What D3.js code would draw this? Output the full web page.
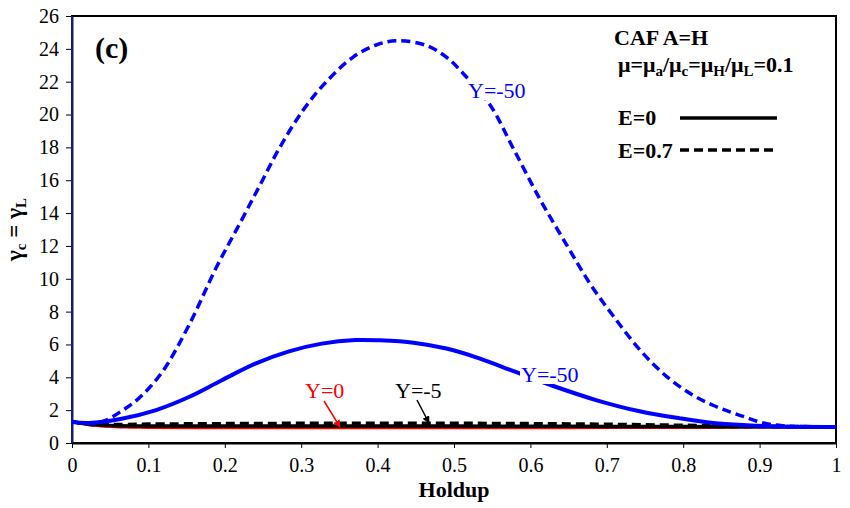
<!DOCTYPE html>
<html>
<head>
<meta charset="utf-8">
<script src="https://cdn.jsdelivr.net/npm/d3@7"></script>
<style>
  body { margin: 0; background: #fff; }
</style>
</head>
<body>
<div id="chart"></div>
<script>
// data
var xTicks = [0, 0.1, 0.2, 0.3, 0.4, 0.5, 0.6, 0.7, 0.8, 0.9, 1];
var yTicks = [0, 2, 4, 6, 8, 10, 12, 14, 16, 18, 20, 22, 24, 26];

// Y=-50, E=0.7 (dashed blue)
var holdupBlueDash = [0, 0.026, 0.044, 0.065, 0.087, 0.118, 0.153, 0.189, 0.22, 0.246, 0.272, 0.303, 0.333, 0.368, 0.399, 0.427, 0.464, 0.49, 0.512, 0.547, 0.578, 0.613, 0.647, 0.678, 0.709, 0.743, 0.778, 0.813, 0.839, 0.862, 0.883, 0.905, 0.93, 0.96, 1];
var gammaBlueDash = [1.3, 1.18, 1.38, 1.95, 2.7, 4.32, 7.17, 10.7, 13.4, 15.7, 18.0, 20.3, 22.0, 23.5, 24.25, 24.5, 24.2, 23.5, 22.5, 20.6, 17.9, 14.8, 12.1, 9.7, 7.7, 5.69, 4.06, 2.9, 2.3, 1.88, 1.55, 1.22, 1.05, 1.0, 0.98];

// Y=-50, E=0 (solid blue)
var holdupBlueSolid = [0, 0.022, 0.065, 0.109, 0.153, 0.196, 0.24, 0.284, 0.327, 0.371, 0.403, 0.447, 0.49, 0.534, 0.578, 0.63, 0.687, 0.743, 0.796, 0.839, 0.883, 0.926, 1];
var gammaBlueSolid = [1.28, 1.22, 1.48, 1.99, 2.8, 3.82, 4.83, 5.58, 6.05, 6.27, 6.25, 6.11, 5.75, 5.14, 4.37, 3.47, 2.6, 1.93, 1.5, 1.22, 1.08, 1.0, 0.98];

// Y=0 and Y=-5
var holdupFlat = [0, 0.02, 0.05, 0.1, 0.2, 0.3, 0.4, 0.5, 0.6, 0.7, 0.8, 0.9, 1];
var gammaRedSolid = [1.3, 1.12, 1.0, 0.95, 0.93, 0.93, 0.93, 0.93, 0.93, 0.94, 0.95, 0.97, 0.98];
var gammaRedDash = [1.3, 1.13, 1.02, 0.97, 0.95, 0.95, 0.95, 0.95, 0.95, 0.95, 0.96, 0.97, 0.98];
var gammaBlackSolid = [1.3, 1.15, 1.06, 1.04, 1.04, 1.04, 1.04, 1.03, 1.02, 1.01, 1.0, 0.99, 0.98];
var gammaBlackDash = [1.3, 1.16, 1.12, 1.15, 1.18, 1.2, 1.21, 1.2, 1.18, 1.14, 1.08, 1.02, 0.98];

var FONT = "'Liberation Serif', 'Times New Roman', serif";

var margin = {top: 16, right: 14, bottom: 65, left: 72},
    width = 850 - margin.left - margin.right,
    height = 508 - margin.top - margin.bottom;

var svg = d3.select("#chart")
  .append("svg")
    .attr("width", 850)
    .attr("height", 508)
    .style("font-family", FONT)
  .append("g")
    .attr("transform", "translate(" + margin.left + "," + margin.top + ")");

var x = d3.scaleLinear().domain([0, 1]).range([0, width]);
var y = d3.scaleLinear().domain([0, 26]).range([height, 0]);

// X axis
var xAxis = svg.append("g")
  .attr("transform", "translate(0," + height + ")")
  .call(d3.axisBottom(x).tickValues(xTicks).tickSize(5).tickSizeOuter(0).tickFormat(d3.format("")));
xAxis.attr("font-family", null).attr("font-size", null);
xAxis.selectAll("text").attr("dy", "1.05em").style("font-size", "20px").attr("fill", "#000");
xAxis.select(".domain").attr("stroke-width", 2);

// Y axis
var yAxis = svg.append("g")
  .call(d3.axisLeft(y).tickValues(yTicks).tickSize(6).tickSizeOuter(0));
yAxis.attr("font-family", null).attr("font-size", null);
yAxis.selectAll("text").attr("x", -13).style("font-size", "20px").attr("fill", "#000");
yAxis.select(".domain").attr("stroke", "#1a1a7a").attr("stroke-width", 2);

// frame
svg.append("rect")
  .attr("width", width).attr("height", height)
  .attr("fill", "none").attr("stroke", "#000").attr("stroke-width", 2);
svg.append("line")
  .attr("x1", 0).attr("x2", 0).attr("y1", 0).attr("y2", height)
  .attr("stroke", "#1a1a7a").attr("stroke-width", 2);

var line = d3.line()
  .x(function(d) { return x(d[0]); })
  .y(function(d) { return y(d[1]); })
  .curve(d3.curveCatmullRom.alpha(0.5));

function series(xs, ys, color, dash, w) {
  svg.append("path")
    .datum(d3.zip(xs, ys))
    .attr("fill", "none")
    .attr("stroke", color)
    .attr("stroke-width", w)
    .attr("stroke-dasharray", dash)
    .attr("d", line);
}

series(holdupFlat, gammaRedDash, "#ff0000", "9,5", 3);
series(holdupFlat, gammaRedSolid, "#ff0000", null, 3);
series(holdupFlat, gammaBlackSolid, "#000", null, 3.5);
series(holdupFlat, gammaBlackDash, "#000", "9,5", 3.5);
series(holdupBlueSolid, gammaBlueSolid, "#0000ff", null, 4);
series(holdupBlueDash, gammaBlueDash, "#0000ff", "9,5", 3.5);

// curve labels
function label(tx, ty, txt, color) {
  var t = svg.append("text")
    .attr("x", tx).attr("y", ty)
    .attr("fill", color)
    .style("font-size", "22px")
    .text(txt);
  var b = t.node().getBBox();
  svg.insert("rect", function() { return t.node(); })
    .attr("x", b.x - 1).attr("y", b.y + 3)
    .attr("width", b.width + 2).attr("height", b.height - 6)
    .attr("fill", "#fff");
}
label(396, 82, "Y=-50", "#0000ff");
label(449, 366, "Y=-50", "#0000ff");

svg.append("text").attr("x", 233).attr("y", 382).attr("fill", "#ff0000")
  .style("font-size", "22px").text("Y=0");
svg.append("text").attr("x", 323).attr("y", 382).attr("fill", "#000")
  .style("font-size", "22px").text("Y=-5");

// arrows
var defs = svg.append("defs");
["red", "black"].forEach(function(c) {
  defs.append("marker")
    .attr("id", "arr-" + c)
    .attr("viewBox", "0 0 10 10").attr("refX", 9).attr("refY", 5)
    .attr("markerWidth", 5).attr("markerHeight", 5).attr("orient", "auto")
    .append("path").attr("d", "M0,0L10,5L0,10z").attr("fill", c === "red" ? "#ff0000" : "#000");
});
svg.append("line")
  .attr("x1", 252).attr("y1", 385).attr("x2", 268).attr("y2", 411)
  .attr("stroke", "#ff0000").attr("stroke-width", 1.5).attr("marker-end", "url(#arr-red)");
svg.append("line")
  .attr("x1", 345).attr("y1", 384).attr("x2", 357).attr("y2", 407)
  .attr("stroke", "#000").attr("stroke-width", 1.5).attr("marker-end", "url(#arr-black)");

// panel letter
svg.append("text").attr("x", 23).attr("y", 42)
  .style("font-size", "30px").style("font-weight", "bold").text("(c)");

// annotation box
svg.append("text").attr("x", 542).attr("y", 29)
  .style("font-size", "22px").style("font-weight", "bold").text("CAF A=H");
var mu = svg.append("text").attr("x", 546).attr("y", 56)
  .style("font-size", "22px").style("font-weight", "bold");
mu.append("tspan").text("\u03bc=\u03bc");
mu.append("tspan").attr("baseline-shift", "-25%").style("font-size", "15px").text("a");
mu.append("tspan").text("/\u03bc");
mu.append("tspan").attr("baseline-shift", "-25%").style("font-size", "15px").text("c");
mu.append("tspan").text("=\u03bc");
mu.append("tspan").attr("baseline-shift", "-25%").style("font-size", "15px").text("H");
mu.append("tspan").text("/\u03bc");
mu.append("tspan").attr("baseline-shift", "-25%").style("font-size", "15px").text("L");
mu.append("tspan").text("=0.1");

// legend
svg.append("text").attr("x", 546).attr("y", 109)
  .style("font-size", "22px").style("font-weight", "bold").text("E=0");
svg.append("line").attr("x1", 608).attr("x2", 705).attr("y1", 102).attr("y2", 102)
  .attr("stroke", "#000").attr("stroke-width", 3.5);
svg.append("text").attr("x", 546).attr("y", 142)
  .style("font-size", "22px").style("font-weight", "bold").text("E=0.7");
svg.append("line").attr("x1", 608).attr("x2", 705).attr("y1", 134).attr("y2", 134)
  .attr("stroke", "#000").attr("stroke-width", 3.5).attr("stroke-dasharray", "9,5");

// axis titles
svg.append("text")
  .attr("x", width / 2).attr("y", height + 54)
  .attr("text-anchor", "middle")
  .style("font-size", "22px").style("font-weight", "bold")
  .text("Holdup");

var yt = svg.append("text")
  .attr("transform", "translate(-50," + (height / 2) + ")rotate(-90)")
  .attr("text-anchor", "middle")
  .style("font-size", "23px").style("font-weight", "bold");
yt.append("tspan").text("\u03b3");
yt.append("tspan").attr("baseline-shift", "-25%").style("font-size", "15px").text("c");
yt.append("tspan").text(" = \u03b3");
yt.append("tspan").attr("baseline-shift", "-25%").style("font-size", "15px").text("L");
</script>
</body>
</html>
